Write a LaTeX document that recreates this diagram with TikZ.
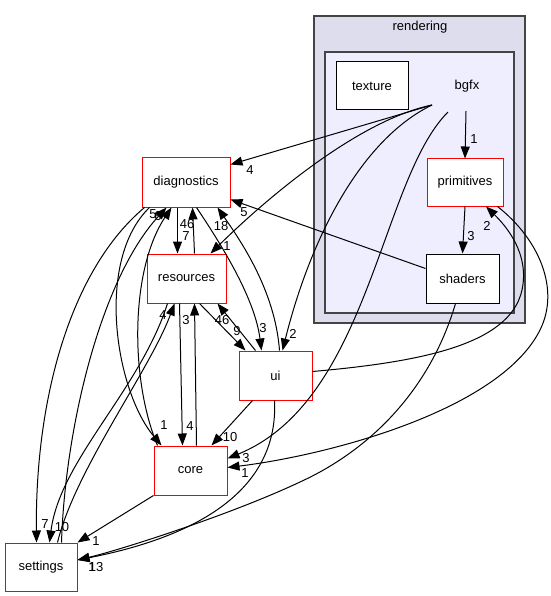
\documentclass[tikz,border=0pt]{standalone}
\usepackage{fontspec}
\setmainfont{Liberation Sans}
\usetikzlibrary{arrows.meta,calc}

\definecolor{clustouter}{HTML}{DDDDEE}
\definecolor{clustinner}{HTML}{EEEEFF}
\definecolor{clustline}{HTML}{444444}

\tikzset{
  dirbox/.style={draw=black, fill=white, line width=1pt, minimum height=49pt, inner sep=0pt},
  reddir/.style={dirbox, draw=red},
  dep/.style={line width=1pt, -{Triangle[length=12pt,width=9pt]}},
  lbl/.style={inner sep=0pt},
}

\begin{document}
\begin{tikzpicture}[x=1pt,y=-1pt,font=\fontsize{13}{15}\selectfont]
\useasboundingbox (0,0) rectangle (550,596);

% clusters
\draw[clustline, fill=clustouter, line width=1.2pt] (314,16) rectangle (525,323);
\node (rendering) at (420,27) {rendering};
\draw[clustline, fill=clustinner, line width=1.2pt] (325,52) rectangle (514,313);
\node (bgfx) at (467,86) {bgfx};

% directories
\node[dirbox, minimum width=72pt, minimum height=48pt] (texture) at (372,86) {texture};
\node[reddir, minimum width=76pt, minimum height=47pt] (primitives) at (465,182.5) {primitives};
\node[dirbox, minimum width=73pt] (shaders) at (462.5,278.5) {shaders};
\node[reddir, minimum width=88pt] (diagnostics) at (186,182.5) {diagnostics};
\node[reddir, minimum width=79pt] (resources) at (186.5,278.5) {resources};
\node[reddir, minimum width=73pt] (ui) at (275.5,375.5) {ui};
\node[reddir, minimum width=73pt] (core) at (190.5,470.5) {core};
\node[reddir, minimum width=72pt, minimum height=48pt] (settings) at (41,567) {settings};

% bgfx
\draw[dep] ($(bgfx)+(-35,19)$) -- ($(diagnostics.north east)+(0,7)$) node[lbl] at (250,170) {4};
\draw[dep] ($(bgfx)+(-35,19)$) .. controls (360,120) and (270,195) .. ($(resources.north east)+(-16,0)$) node[lbl] at (227,246) {1};
\draw[dep] ($(bgfx)+(-35,19)$) .. controls (360,140) and (310,240) .. ($(ui.north west)+(44,0)$) node[lbl] at (293,334) {2};
\draw[dep] ($(bgfx)+(-19,26)$) .. controls (380,180) and (370,400) .. ($(core.east)+(0,-12)$) node[lbl] at (246,458) {3};
\draw[dep] ($(bgfx)+(-1,25)$) -- (primitives.north) node[lbl] at (474,139) {1};

% primitives, shaders
\draw[dep] (primitives.south) -- (shaders.north) node[lbl] at (471,236) {3};
\draw[dep] ($(primitives.south east)+(-6,0)$) .. controls (540,240) and (560,290) .. (540,330) .. controls (500,410) and (330,455) .. ($(core.east)+(0,-3)$) node[lbl] at (245,473) {1};
\draw[dep] ($(shaders.west)+(0,-10)$) -- ($(diagnostics.south east)+(0,-8)$) node[lbl] at (244,212) {5};
\draw[dep] ($(shaders.south)+(-7,0)$) .. controls (430,390) and (370,450) .. (300,482) .. controls (230,515) and (120,550) .. ($(settings.east)+(0,-7)$) node[lbl] at (92,567) {1};

% ui
\draw[dep] ($(ui.east)+(0,-4)$) .. controls (420,362) and (510,345) .. (522,290) .. controls (530,253) and (505,225) .. ($(primitives.south)+(21,0)$) node[lbl] at (487,226) {2};
\draw[dep] ($(ui.south west)+(14,0)$) -- ($(core.north west)+(58,0)$) node[lbl] at (230,437) {10};
\draw[dep] ($(ui.south west)+(36,0)$) .. controls (278,470) and (230,530) .. ($(settings.east)+(0,-7)$) node[lbl] at (96,567) {13};
\draw[dep] ($(ui.north west)+(41,0)$) .. controls (275,290) and (240,240) .. ($(diagnostics.south west)+(76,0)$) node[lbl] at (221,226) {18};
\draw[dep] ($(ui.north west)+(17,0)$) -- ($(resources.south west)+(71,0)$) node[lbl] at (222,320) {46};

% diagnostics
\draw[dep] ($(diagnostics.south west)+(36,0)$) -- ($(resources.north west)+(31,0)$) node[lbl] at (186,236) {7};
\draw[dep] ($(diagnostics.south west)+(55,0)$) .. controls (225,250) and (255,300) .. ($(ui.north west)+(23,0)$) node[lbl] at (263,328) {3};
\draw[dep] ($(diagnostics.south west)+(8,0)$) .. controls (95,260) and (115,390) .. ($(core.north west)+(8,0)$) node[lbl] at (164,425) {1};
\draw[dep] ($(diagnostics.south west)+(3,0)$) .. controls (70,270) and (35,400) .. ($(settings.north west)+(32,0)$) node[lbl] at (45,524) {7};

% resources
\draw[dep] ($(resources.north west)+(48,0)$) -- ($(diagnostics.south west)+(51,0)$) node[lbl] at (187,224) {46};
\draw[dep] ($(resources.south west)+(53,0)$) -- ($(ui.north west)+(7,0)$) node[lbl] at (237,331) {9};
\draw[dep] ($(resources.south west)+(33,0)$) -- ($(core.north west)+(29,0)$) node[lbl] at (190,426) {4};
\draw[dep] ($(resources.south west)+(21,0)$) .. controls (140,390) and (60,460) .. ($(settings.north west)+(45,0)$) node[lbl] at (62,527) {10};

% core
\draw[dep] ($(core.north west)+(43,0)$) -- ($(resources.south west)+(48,0)$) node[lbl] at (186,320) {3};
\draw[dep] ($(core.north west)+(4,0)$) .. controls (130,380) and (130,270) .. ($(diagnostics.south west)+(30,0)$) node[lbl] at (158,216) {6};
\draw[dep] (core.south west) -- (settings.north east) node[lbl] at (96,541) {1};

% settings
\draw[dep] ($(settings.north west)+(53,0)$) .. controls (75,470) and (150,370) .. ($(resources.south west)+(28,0)$) node[lbl] at (163,315) {4};
\draw[dep] ($(settings.north west)+(57,0)$) .. controls (65,430) and (100,280) .. ($(diagnostics.south west)+(25,0)$) node[lbl] at (153,214) {5};
\end{tikzpicture}
\end{document}
